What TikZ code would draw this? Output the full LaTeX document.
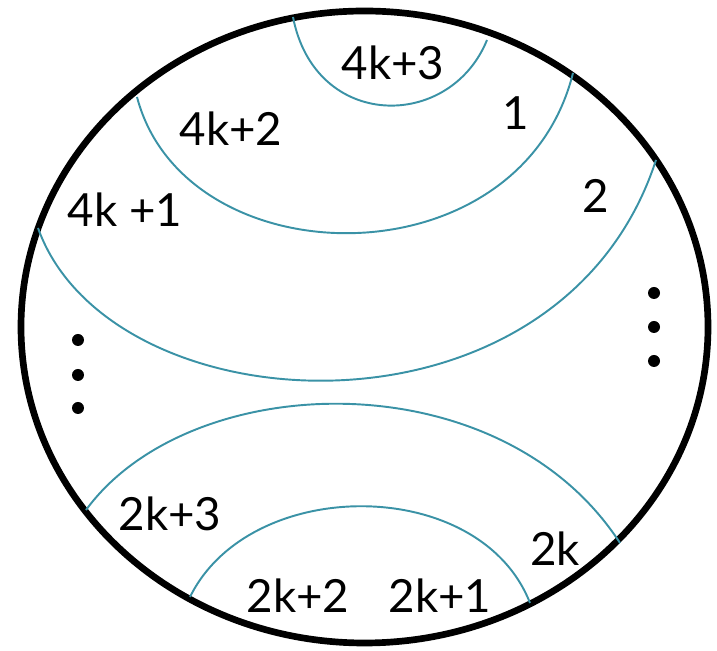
\documentclass[tikz,border=0pt]{standalone}
\usepackage{fontspec}
\setmainfont{Lato}
\usepackage{xcolor}
\usepackage{tikz}
\usetikzlibrary{positioning}

\definecolor{arccol}{RGB}{58,146,166}

\begin{document}
\begin{tikzpicture}[
  lbl/.style={font=\fontsize{26}{30}\selectfont, inner sep=0pt},
  chord/.style={arccol, line width=1.1pt},
  dotmark/.style={circle, fill=black, inner sep=0pt, minimum size=0.24cm}
]

\useasboundingbox (0, 0) rectangle (14.34, 13.02);

% Outer disc
\draw[black, line width=3.8pt] (7.29, 6.48) ellipse [x radius=6.87, y radius=6.32];

% ==================== Upper arcs ====================
\draw[chord] (5.86, 12.68) .. controls (6.30, 10.40) and (9.00, 10.40) .. (9.74, 12.22);
\draw[chord] (2.74, 11.08) .. controls (3.70, 7.42) and (10.40, 7.32) .. (11.46, 11.56);
\draw[chord] (0.76, 8.46) .. controls (2.20, 4.42) and (11.20, 3.92) .. (13.12, 9.82);

% ==================== Lower arcs ====================
\draw[chord] (1.72, 2.82) .. controls (3.80, 5.66) and (10.00, 5.86) .. (12.40, 2.16);
\draw[chord] (3.80, 1.08) .. controls (5.00, 3.52) and (9.60, 3.52) .. (10.60, 0.96);

% Labels
\node[lbl] (l43) at (7.86, 11.76) {4k+3};
\node[lbl] (l1)  at (10.32, 10.76) {1};
\node[lbl] (l42) at (4.62, 10.44) {4k+2};
\node[lbl] (l2)  at (11.92, 9.10) {2};
\node[lbl] (l41) at (2.50, 8.82) {4k +1};
\node[lbl] (l23) at (3.40, 2.74) {2k+3};
\node[lbl] (l2k) at (11.10, 2.04) {2k};
\node[lbl] (l22) at (5.96, 1.10) {2k+2};
\node[lbl] (l21) at (8.80, 1.10) {2k+1};

% Dots
\foreach \yy [count=\i] in {6.22, 5.52, 4.86}
  \node[dotmark] (ldot\i) at (1.56, \yy) {};
\foreach \yy [count=\i] in {7.16, 6.48, 5.80}
  \node[dotmark] (rdot\i) at (13.08, \yy) {};

\end{tikzpicture}
\end{document}
